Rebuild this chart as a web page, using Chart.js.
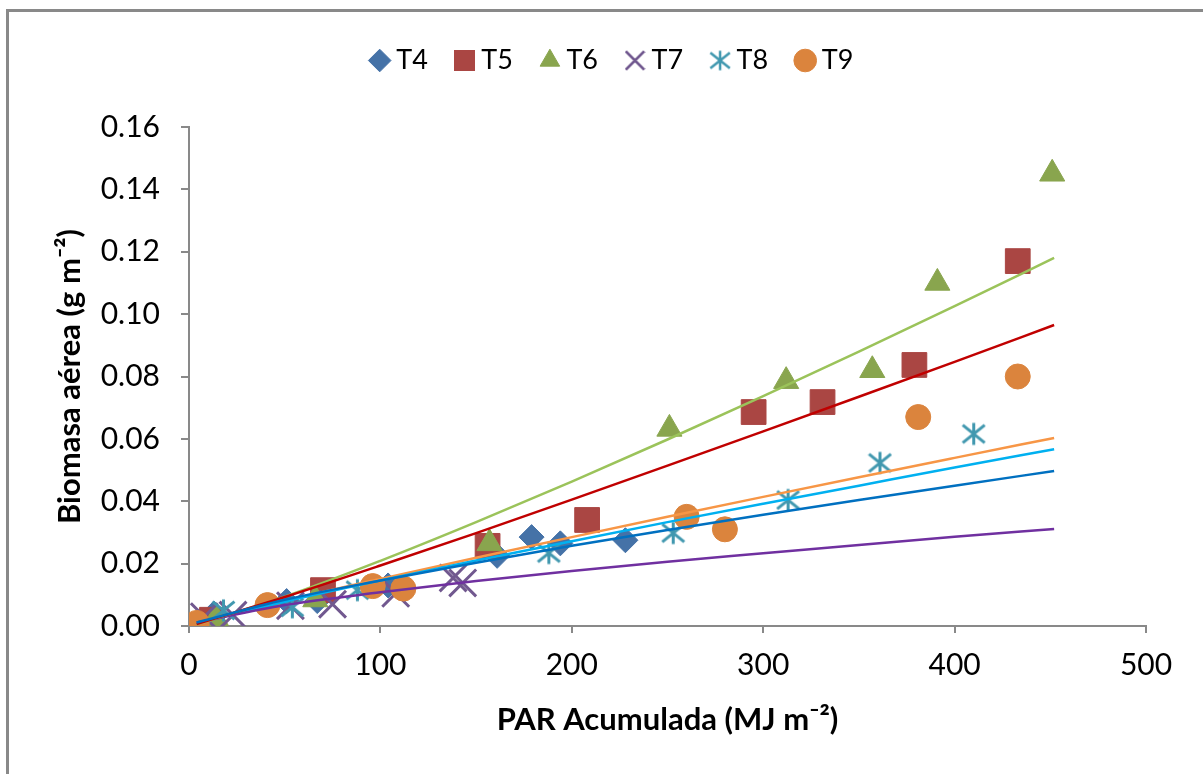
<!DOCTYPE html>
<html>
<head>
<meta charset="utf-8">
<script src="https://cdn.jsdelivr.net/npm/chart.js@4.4.0/dist/chart.umd.min.js"></script>
<style>
  html, body { margin: 0; padding: 0; background: #fff; overflow: hidden; }
  #wrap { position: relative; width: 1203px; height: 774px; }
  #frame { position: absolute; left: 6px; top: 9px; width: 1260px; height: 840px;
           border: 3px solid #898989; pointer-events: none; }
</style>
</head>
<body>
<div id="wrap">
  <canvas id="chart" width="1203" height="774"></canvas>
  <div id="frame"></div>
</div>
<script>
// measured points (PAR acumulada, biomasa)
const t4X = [13, 51, 67, 104, 161, 179, 194, 228];
const t4Y = [0.004, 0.008, 0.008, 0.013, 0.0225, 0.0285, 0.0265, 0.0275];
const t5X = [12, 70, 156, 208, 295, 331, 379, 433];
const t5Y = [0.002, 0.0115, 0.0257, 0.034, 0.0686, 0.0718, 0.0837, 0.117];
const t6X = [14, 66, 157, 251, 312, 357, 391, 451];
const t6Y = [0.0025, 0.0085, 0.0265, 0.0632, 0.0785, 0.082, 0.110, 0.145];
const t7X = [8, 23, 53, 75, 108, 138, 143];
const t7Y = [0.003, 0.0035, 0.0065, 0.007, 0.0105, 0.0154, 0.0138];
const t8X = [18, 54, 88, 188, 253, 313, 361, 410];
const t8Y = [0.005, 0.006, 0.0115, 0.0234, 0.0298, 0.0404, 0.0523, 0.0616];
const t9X = [4, 41, 96, 112, 260, 280, 381, 433];
const t9Y = [0.001, 0.0067, 0.0128, 0.012, 0.035, 0.031, 0.067, 0.080];

// trend curves
const trendX = [4, 50, 100, 150, 200, 250, 300, 350, 400, 452];
const trendT4 = [0.0011, 0.0084, 0.0146, 0.0203, 0.0257, 0.0308, 0.0357, 0.0404, 0.0450, 0.0497];
const trendT5 = [0.0006, 0.0093, 0.0194, 0.0298, 0.0405, 0.0514, 0.0624, 0.0735, 0.0847, 0.0965];
const trendT6 = [0.0005, 0.0094, 0.0209, 0.0333, 0.0463, 0.0598, 0.0737, 0.0880, 0.1026, 0.118];
const trendT7 = [0.0011, 0.0067, 0.0108, 0.0144, 0.0176, 0.0206, 0.0233, 0.0260, 0.0286, 0.0311];
const trendT8 = [0.0008, 0.0078, 0.0146, 0.0210, 0.0272, 0.0333, 0.0392, 0.0450, 0.0508, 0.0567];
const trendT9 = [0.0008, 0.0080, 0.0151, 0.0219, 0.0285, 0.0350, 0.0414, 0.0477, 0.0539, 0.0603];

const names = ['T4', 'T5', 'T6', 'T7', 'T8', 'T9'];
const xTicks = [0, 100, 200, 300, 400, 500];

function pts(xs, ys) { return xs.map((x, i) => ({x: x, y: ys[i]})); }

// small canvases for markers chart.js has no exact match for
function icon(kind, color, size, lw) {
  const c = document.createElement('canvas');
  c.width = size; c.height = size;
  const g = c.getContext('2d');
  const h = size / 2, r = h - lw / 2;
  g.strokeStyle = color; g.fillStyle = color; g.lineWidth = lw;
  g.beginPath();
  if (kind === 'asterisk') {
    g.moveTo(h, h - r); g.lineTo(h, h + r);
    g.moveTo(h - r, h - r * 0.8); g.lineTo(h + r, h + r * 0.8);
    g.moveTo(h - r, h + r * 0.8); g.lineTo(h + r, h - r * 0.8);
    g.stroke();
  } else if (kind === 'x') {
    g.moveTo(h - r, h - r); g.lineTo(h + r, h + r);
    g.moveTo(h - r, h + r); g.lineTo(h + r, h - r);
    g.stroke();
  } else if (kind === 'square') {
    g.fillRect(0, 0, size, size);
  }
  return c;
}

const FONT = 'Lato, "Open Sans", sans-serif';

const pointSets = [
  {data: pts(t4X, t4Y), style: 'rectRot', color: '#4572A7', r: 12.5},
  {data: pts(t5X, t5Y), style: 'rect', color: '#AA4643', r: 17.5},
  {data: pts(t6X, t6Y), style: 'triangle', color: '#89A54E', r: 14.5},
  {data: pts(t7X, t7Y), style: 'crossRot', color: '#71588F', r: 19},
  {data: pts(t8X, t8Y), style: icon('asterisk', '#4198AF', 25, 3), color: '#4198AF', r: 12},
  {data: pts(t9X, t9Y), style: 'circle', color: '#DB843D', r: 12.5}
];

const legendIcons = [
  'rectRot',
  icon('square', '#AA4643', 21, 0),
  'triangle',
  icon('x', '#71588F', 21, 2.5),
  icon('asterisk', '#4198AF', 22, 2.5),
  'circle'
];

const trendSets = [
  {data: trendT4, color: '#0070C0'},
  {data: trendT5, color: '#C00000'},
  {data: trendT6, color: '#9BC35A'},
  {data: trendT7, color: '#7030A0'},
  {data: trendT8, color: '#00B0F0'},
  {data: trendT9, color: '#F79646'}
];

let datasets = [];
for (let i = 0; i < pointSets.length; i++) {
  let p = pointSets[i];
  datasets.push({
    label: names[i],
    data: p.data,
    pointStyle: p.style,
    pointRadius: p.r,
    pointHoverRadius: p.r,
    backgroundColor: p.color,
    borderColor: p.color,
    pointBorderWidth: (p.style === 'crossRot') ? 3 : 1,
    showLine: false,
    order: 6 - i
  });
}
for (let i = 0; i < trendSets.length; i++) {
  datasets.push({
    label: 'trend ' + names[i],
    data: pts(trendX, trendSets[i].data),
    borderColor: trendSets[i].color,
    borderWidth: 2.5,
    pointRadius: 0,
    showLine: true,
    fill: false,
    cubicInterpolationMode: 'monotone',
    order: 0
  });
}

const legendSpace = {
  id: 'legendSpace',
  beforeInit(chart) {
    const fit = chart.legend.fit;
    chart.legend.fit = function() { fit.call(this); this.height = 114; };
  },
  afterLayout(chart) {
    // legend sits centred on the whole frame, a bit right of the canvas centre
    chart.legend.left += 42;
    chart.legend.right += 42;
  }
};

new Chart(document.getElementById('chart').getContext('2d'), {
  type: 'scatter',
  data: {datasets: datasets},
  plugins: [legendSpace],
  options: {
    responsive: false,
    animation: false,
    devicePixelRatio: 1,
    events: [],
    layout: {padding: {top: 13, right: 57, bottom: 0, left: 0}},
    plugins: {
      tooltip: {enabled: false},
      legend: {
        position: 'top',
        labels: {
          usePointStyle: true,
          boxWidth: 6,
          boxHeight: 16,
          padding: 34,
          color: '#000',
          font: {family: FONT, size: 27},
          filter: (item) => item.datasetIndex < 6,
          sort: (a, b) => a.datasetIndex - b.datasetIndex,
          generateLabels: (chart) => {
            const items = Chart.defaults.plugins.legend.labels.generateLabels(chart);
            items.forEach((it) => {
              if (it.datasetIndex < 6) it.pointStyle = legendIcons[it.datasetIndex];
            });
            return items;
          }
        }
      }
    },
    scales: {
      x: {
        type: 'linear',
        min: 0, max: 500,
        afterFit: (s) => { s.height = 148; },
        afterBuildTicks: (s) => { s.ticks = xTicks.map(v => ({value: v})); },
        grid: {display: true, drawOnChartArea: false, drawTicks: true, tickLength: 7, color: '#898989', lineWidth: 2},
        border: {display: true, color: '#898989', width: 2},
        ticks: {color: '#000', font: {family: FONT, size: 30}, padding: 14},
        title: {display: true, text: 'PAR Acumulada (MJ m⁻²)', color: '#000',
                font: {family: FONT, size: 31, weight: 'bold'}, padding: {top: 0, bottom: 35}}
      },
      y: {
        type: 'linear',
        min: 0, max: 0.16,
        afterFit: (s) => { s.width = 189; },
        grid: {display: true, drawOnChartArea: false, drawTicks: true, tickLength: 8, color: '#898989', lineWidth: 2},
        border: {display: true, color: '#898989', width: 2},
        ticks: {stepSize: 0.02, color: '#000', font: {family: FONT, size: 30}, padding: 21,
                callback: (v) => v.toFixed(2)},
        title: {display: true, text: 'Biomasa aérea (g m⁻²)', color: '#000',
                font: {family: FONT, size: 31, weight: 'bold'}, padding: {top: 51, bottom: 0}}
      }
    }
  }
});
</script>
</body>
</html>
